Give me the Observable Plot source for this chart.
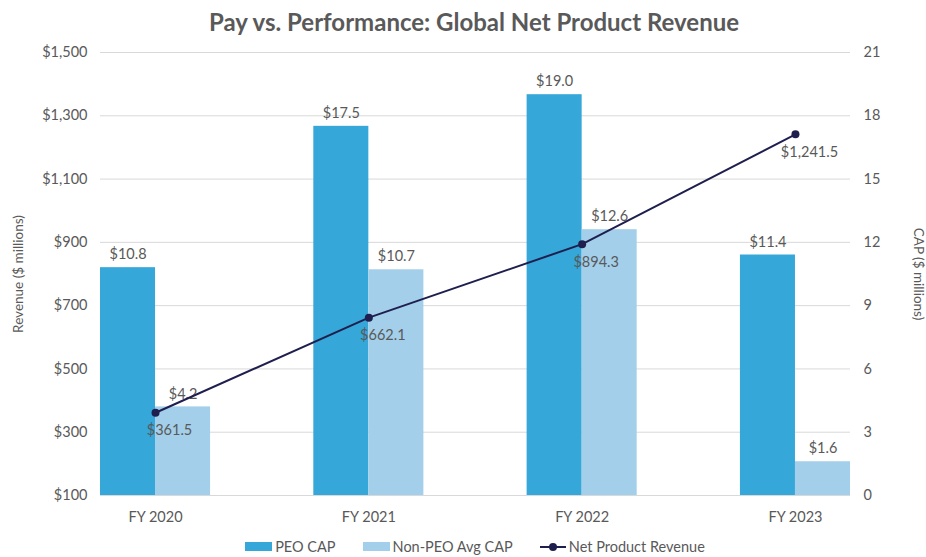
<!DOCTYPE html>
<html>
<head>
<meta charset="utf-8">
<script src="https://cdn.jsdelivr.net/npm/d3@7"></script>
<script src="https://cdn.jsdelivr.net/npm/@observablehq/plot@0.6"></script>
<style>
  body { margin: 0; background: #fff; font-family: Lato, "Open Sans", sans-serif; }
  #title { height: 40px; line-height: 44px; text-align: center; font-size: 24px; font-weight: bold; color: #595959; margin-left: 22px; }
  #legend { display: flex; justify-content: center; align-items: center; gap: 27px; font-size: 14.5px; color: #595959; height: 27px; margin-left: 24px; padding-top: 3px; }
  .item { display: flex; align-items: center; gap: 3px; }
  .sw { width: 27px; height: 9px; display: inline-block; }
</style>
</head>
<body>
<div id="title">Pay vs. Performance: Global Net Product Revenue</div>
<div id="chart"></div>
<div id="legend">
  <span class="item"><span class="sw" style="background:#35A7D9"></span>PEO CAP</span>
  <span class="item"><span class="sw" style="background:#A3CFEA"></span>Non-PEO Avg CAP</span>
  <span class="item"><svg width="26" height="10"><line x1="0" y1="5" x2="26" y2="5" stroke="#1F1F4F" stroke-width="2"/><circle cx="13" cy="5" r="4" fill="#1F1F4F"/></svg>Net Product Revenue</span>
</div>
<script>
const categories = ["FY 2020", "FY 2021", "FY 2022", "FY 2023"];
const peoCap = [10.8, 17.5, 19.0, 11.4];
const nonPeoCap = [4.2, 10.7, 12.6, 1.6];
const revenue = [361.5, 662.1, 894.3, 1241.5];
const revTicks = [100, 300, 500, 700, 900, 1100, 1300, 1500];
const capTicks = [0, 3, 6, 9, 12, 15, 18, 21];

const revMin = revTicks[0], revMax = revTicks[revTicks.length - 1], capMax = capTicks[capTicks.length - 1];
const toCap = v => (v - revMin) / (revMax - revMin) * capMax;
const half = 0.258;

const rows = categories.map((c, i) => ({i, c, peo: peoCap[i], non: nonPeoCap[i], rev: revenue[i], revC: toCap(revenue[i])}));
const fmtRev = v => "$" + d3.format(",.1f")(v);
const fmtCap = v => "$" + v.toFixed(1);
const grey = "#595959";
const fs = 14.5;

const chart = Plot.plot({
  width: 926,
  height: 490,
  marginTop: 12,
  marginBottom: 35,
  marginLeft: 100,
  marginRight: 76,
  style: {fontFamily: "Lato, 'Open Sans', sans-serif", fontSize: fs + "px", color: grey},
  x: {type: "linear", domain: [-half, categories.length - 1 + half]},
  y: {domain: [0, capMax]},
  marks: [
    Plot.gridY(capTicks.filter(d => d > 0), {stroke: "#d9d9d9", strokeOpacity: 1}),
    Plot.rectY(rows, {x1: d => d.i - half, x2: d => d.i, y1: 0, y2: "peo", fill: "#35A7D9"}),
    Plot.rectY(rows, {x1: d => d.i, x2: d => d.i + half, y1: 0, y2: "non", fill: "#A3CFEA"}),
    Plot.ruleY([0], {stroke: "#d9d9d9"}),
    Plot.text(rows, {x: d => d.i - half / 2, y: "peo", text: d => fmtCap(d.peo), dy: -13, fill: grey, fontSize: fs}),
    Plot.text(rows, {x: d => d.i + half / 2, y: "non", text: d => fmtCap(d.non), dy: -13, fill: grey, fontSize: fs}),
    Plot.line(rows, {x: "i", y: "revC", stroke: "#1F1F4F", strokeWidth: 2}),
    Plot.dot(rows, {x: "i", y: "revC", r: 4, fill: "#1F1F4F"}),
    Plot.text(rows, {x: "i", y: "revC", text: d => fmtRev(d.rev), dy: 18, dx: 14, fill: grey, fontSize: fs}),
    Plot.axisY({anchor: "left", ticks: capTicks, tickSize: 0, tickPadding: 13, label: null,
      tickFormat: d => "$" + d3.format(",")(Math.round(revMin + d / capMax * (revMax - revMin))), fill: grey, fontSize: fs}),
    Plot.axisY({anchor: "right", ticks: capTicks, tickSize: 0, tickPadding: 13, label: null, tickFormat: d => String(d), fill: grey, fontSize: fs}),
    Plot.axisX({ticks: d3.range(categories.length), tickSize: 0, tickPadding: 16, label: null, tickFormat: i => categories[i], fill: grey, fontSize: fs}),
    Plot.text(["Revenue ($ millions)"], {frameAnchor: "left", textAnchor: "middle", dx: -82, rotate: -90, fill: grey, fontSize: 13.5}),
    Plot.text(["CAP ($ millions)"], {frameAnchor: "right", textAnchor: "middle", dx: 68, rotate: 90, fill: grey, fontSize: 13.5})
  ]
});
document.getElementById("chart").append(chart);
</script>
</body>
</html>
